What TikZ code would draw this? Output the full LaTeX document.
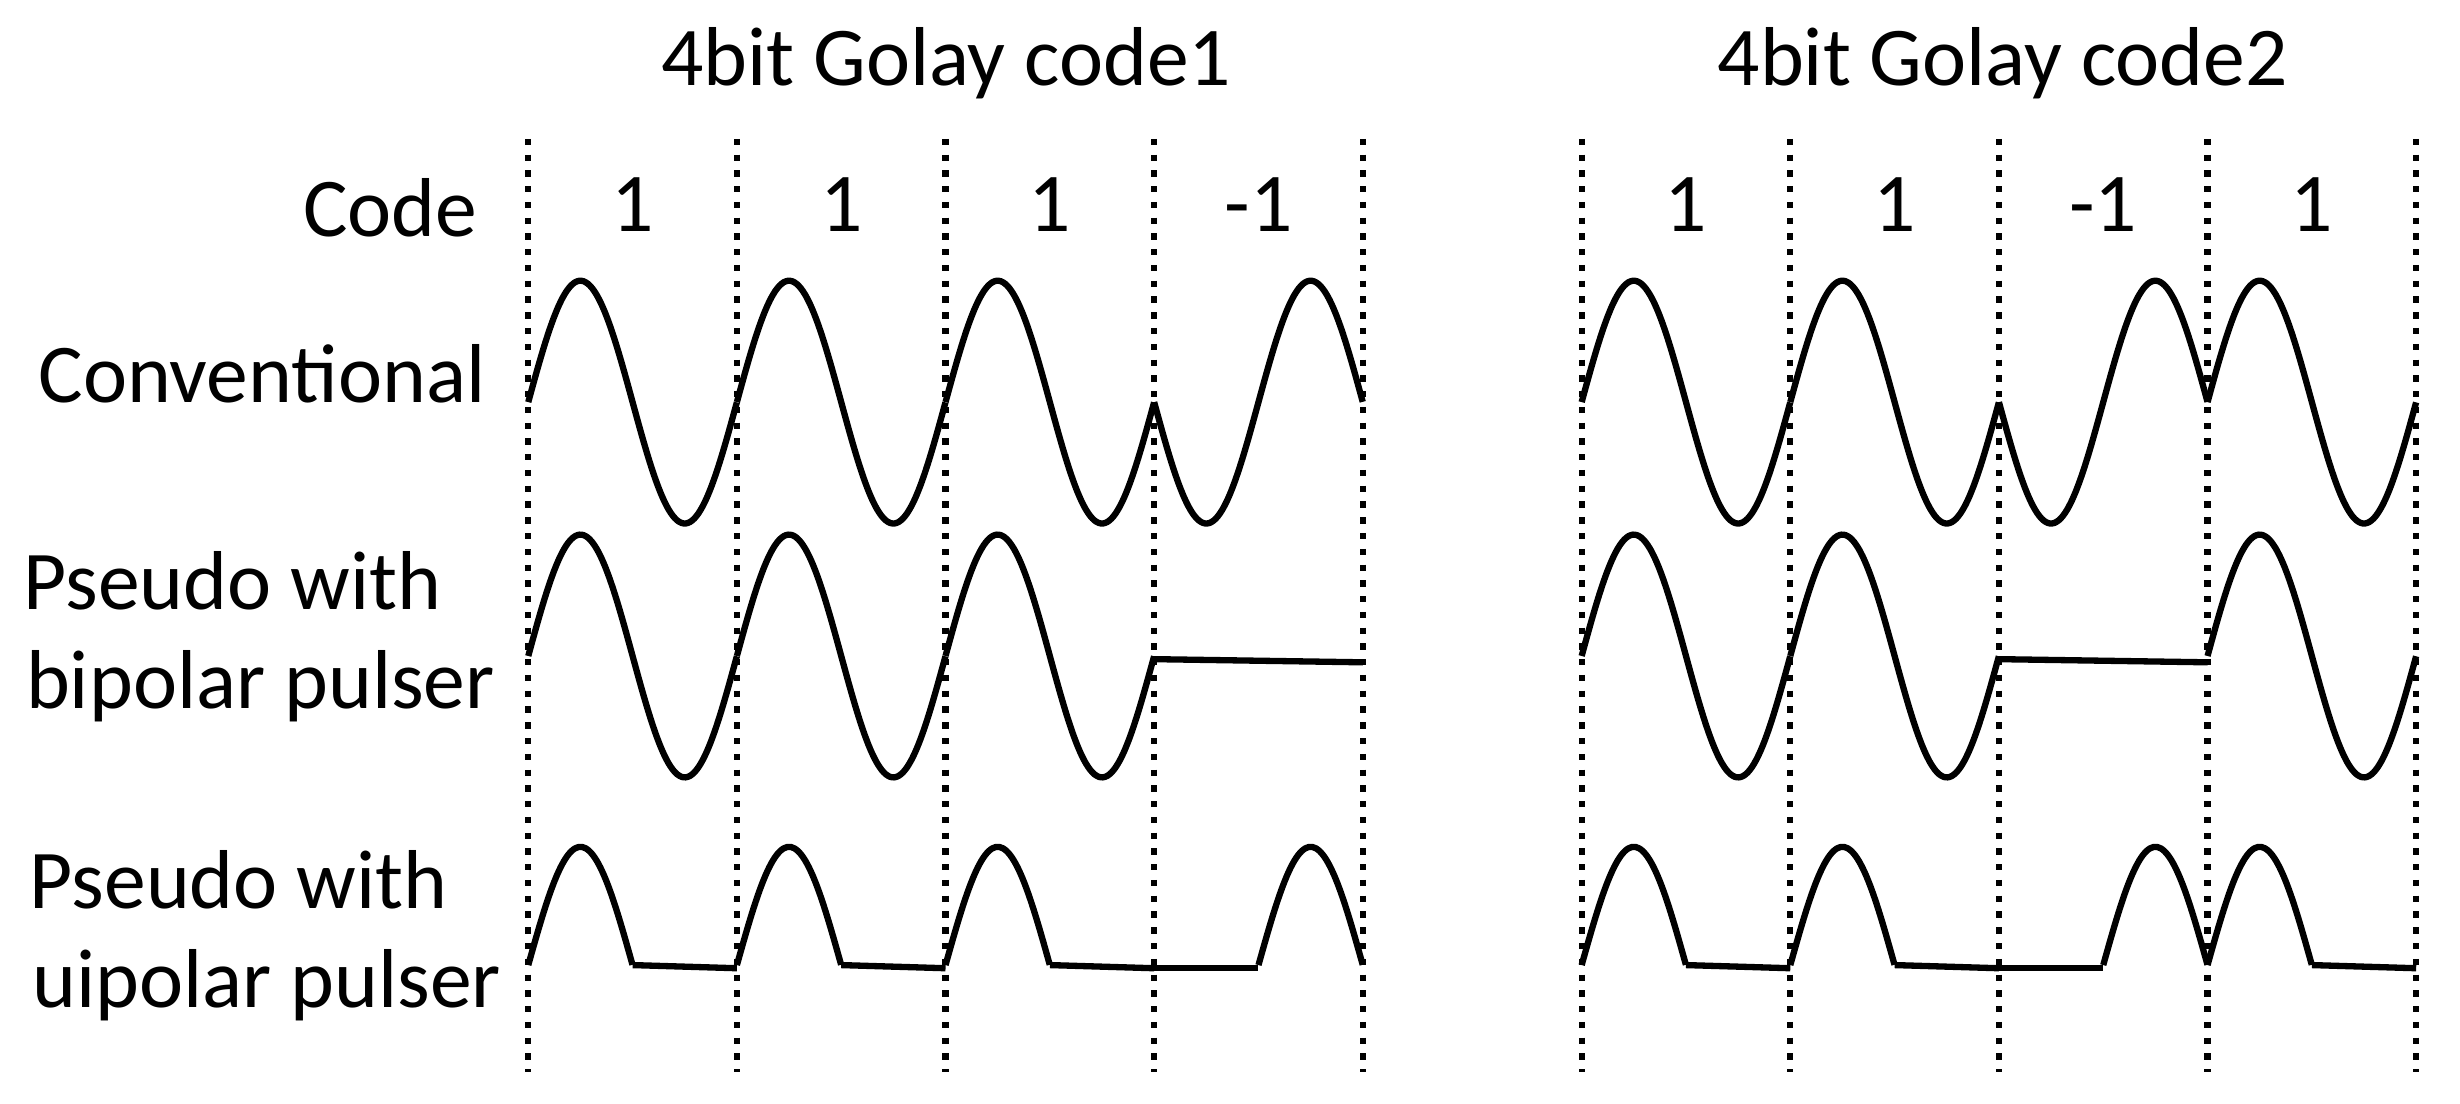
\documentclass[tikz,border=0pt]{standalone}
\usepackage{fontspec}
\setmainfont{Carlito}
\begin{document}
\begin{tikzpicture}[x=1pt,y=-1pt,
  lbl/.style={font=\fontsize{53}{60}\selectfont,inner sep=0pt},
  wave/.style={line width=4pt,line join=round},
  grid/.style={line width=4pt,dash pattern=on 4pt off 6pt}]
\useasboundingbox (0,0) rectangle (1560,700);
\def\w{132.3}
% titles
\node[lbl] (t1) at (600,40) {4bit Golay code1};
\node[lbl] (t2) at (1270,40) {4bit Golay code2};
\node[lbl,anchor=east] (code) at (303,132) {Code};
\node[lbl,anchor=east] (conv) at (308,237) {Conventional};
\node[lbl,anchor=east] (pb1) at (280,368) {Pseudo with};
\node[lbl,anchor=east] (pb2) at (314,435) {bipolar pulser};
\node[lbl,anchor=east] (pu1) at (284,558) {Pseudo with};
\node[lbl,anchor=east] (pu2) at (318,625) {uipolar pulser};
% dotted lines
\foreach \xx in {335,467.3,599.6,731.9,864.2,1003,1135.3,1267.6,1399.9,1532.2}
  \draw[grid] (\xx,88) -- (\xx,680);
% panels
\foreach \px/\codes/\nm in {335/{1,1,1,-1}/a,1003/{1,1,-1,1}/b}{
  \foreach \c [count=\i from 0] in \codes {
    \pgfmathsetmacro{\xs}{\px+\i*\w}
    \node[lbl] (c\nm\i) at (\xs+0.5*\w,130) {\c};
    \draw[wave] plot[domain=0:1,samples=50,smooth] ({\xs+\x*\w},{255-\c*77*sin(360*\x)});
    \ifnum\c>0
      \draw[wave] plot[domain=0:1,samples=50,smooth] ({\xs+\x*\w},{416-77*sin(360*\x)});
      \draw[wave] plot[domain=0:0.5,samples=30,smooth] ({\xs+\x*\w},{612-75*sin(360*\x)});
      \draw[wave] ({\xs+0.5*\w},612) -- ({\xs+\w},614);
    \else
      \draw[wave] (\xs,418) -- ({\xs+\w},420);
      \draw[wave] (\xs,614) -- ({\xs+0.5*\w},614);
      \draw[wave] plot[domain=0.5:1,samples=30,smooth] ({\xs+\x*\w},{612+75*sin(360*\x)});
    \fi
  }
}
\end{tikzpicture}
\end{document}
